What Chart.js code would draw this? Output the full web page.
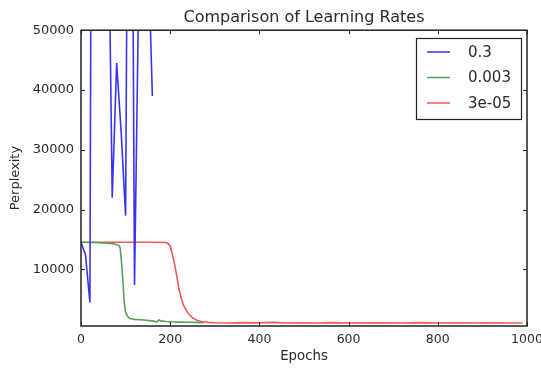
<!DOCTYPE html>
<html>
<head>
<meta charset="utf-8">
<script src="https://cdn.jsdelivr.net/npm/chart.js@4/dist/chart.umd.min.js"></script>
<style>
  html, body { margin: 0; padding: 0; background: #fff; }
  #wrap { width: 541px; height: 368px; }
</style>
</head>
<body>
<div id="wrap"><canvas id="lrChart"></canvas></div>
<script>
// legend labels = learning rates
const rateLabels = ['0.3', '0.003', '3e-05'];

// lr 0.3 diverges, no data after epoch 160
const blueEpochs = [0, 10, 20, 30, 40, 50, 60, 70, 80, 90, 100, 110, 120, 130, 140, 150, 160];
const bluePerplexity = [14500, 12500, 4500, 250000, 300000, 200000, 80000, 22000, 44500, 33000, 19000, 150000, 7400, 60000, 150000, 65000, 39000];

// lr 0.003 - drops around epoch 90, stops at ~275
const greenEpochs = [0, 30, 60, 75, 85, 88, 91, 94, 97, 100, 105, 110, 120, 140, 160, 170, 175, 180, 190, 200, 220, 240, 260, 275];
const greenPerplexity = [14550, 14500, 14400, 14250, 14000, 13500, 11000, 8000, 4500, 2800, 2100, 1800, 1650, 1550, 1400, 1250, 1550, 1400, 1300, 1250, 1200, 1180, 1150, 1120];

// lr 3e-05 - drops around epoch 200
const redEpochs = [0, 50, 100, 150, 190, 196, 200, 205, 210, 215, 220, 225, 230, 240, 250, 260, 270, 285, 300, 330, 360, 400, 430, 460, 500, 530, 560, 600, 640, 680, 720, 760, 800, 840, 880, 920, 960, 990];
const redPerplexity = [14550, 14550, 14540, 14550, 14500, 14300, 13900, 12500, 10800, 8800, 6600, 5200, 4000, 2700, 1900, 1500, 1300, 1150, 1100, 1050, 1120, 1080, 1150, 1050, 1100, 1060, 1120, 1050, 1100, 1080, 1040, 1110, 1060, 1100, 1050, 1090, 1040, 1060];

const xTicks = [0, 200, 400, 600, 800, 1000];
const yTicks = [10000, 20000, 30000, 40000, 50000];

const lineColors = ['#3535f0', '#55a055', '#ee5a55'];
const textColor = '#2a2a2a';
const fontFamily = 'DejaVu Sans';

function toPoints(xs, ys) {
    return xs.map((x, i) => ({ x: x, y: ys[i] }));
}

// matplotlib-ish frame: full box + inward ticks on every side, plus the legend box
const framePlugin = {
    id: 'frame',
    afterDatasetsDraw(chart) {
        const { ctx, chartArea: a, scales } = chart;
        const len = 4;
        ctx.save();
        ctx.strokeStyle = '#222';
        ctx.lineWidth = 1;
        ctx.beginPath();
        xTicks.forEach(v => {
            const px = Math.round(scales.x.getPixelForValue(v)) + 0.5;
            ctx.moveTo(px, a.bottom); ctx.lineTo(px, a.bottom - len);
            ctx.moveTo(px, a.top); ctx.lineTo(px, a.top + len);
        });
        yTicks.forEach(v => {
            const py = Math.round(scales.y.getPixelForValue(v)) + 0.5;
            ctx.moveTo(a.left, py); ctx.lineTo(a.left + len, py);
            ctx.moveTo(a.right, py); ctx.lineTo(a.right - len, py);
        });
        ctx.stroke();
        ctx.lineWidth = 1.5;
        ctx.strokeRect(a.left, a.top, a.right - a.left, a.bottom - a.top);

        // legend
        const bx = 416, by = 38, bw = 105, bh = 81;
        ctx.fillStyle = '#fff';
        ctx.fillRect(bx, by, bw, bh);
        ctx.lineWidth = 1.2;
        ctx.strokeStyle = '#222';
        ctx.strokeRect(bx + 0.5, by + 0.5, bw, bh);
        ctx.font = '15px "' + fontFamily + '"';
        ctx.textBaseline = 'middle';
        ctx.textAlign = 'left';
        chart.data.datasets.forEach((ds, i) => {
            const y = by + 14 + i * 25.5;
            ctx.strokeStyle = ds.borderColor;
            ctx.lineWidth = 1.5;
            ctx.beginPath();
            ctx.moveTo(427, y); ctx.lineTo(450, y);
            ctx.stroke();
            ctx.fillStyle = textColor;
            ctx.fillText(ds.label, 468, y + 1);
        });
        ctx.restore();
    }
};

const ctx = document.getElementById('lrChart').getContext('2d');

const lrChart = new Chart(ctx, {
    type: 'line',
    data: {
        datasets: [
            { label: rateLabels[0], data: toPoints(blueEpochs, bluePerplexity), borderColor: lineColors[0] },
            { label: rateLabels[1], data: toPoints(greenEpochs, greenPerplexity), borderColor: lineColors[1] },
            { label: rateLabels[2], data: toPoints(redEpochs, redPerplexity), borderColor: lineColors[2] }
        ]
    },
    options: {
        responsive: true,
        maintainAspectRatio: false,
        animation: false,
        datasets: {
            line: { borderWidth: 1.6, pointRadius: 0, tension: 0, fill: false }
        },
        layout: { padding: { left: 0, right: 14, top: 0, bottom: 0 } },
        plugins: {
            legend: { display: false },
            tooltip: { enabled: false },
            title: {
                display: true,
                fullSize: false,
                text: 'Comparison of Learning Rates',
                color: textColor,
                font: { family: fontFamily, size: 16, weight: 'normal' },
                padding: { top: 8, bottom: 3 }
            }
        },
        scales: {
            x: {
                type: 'linear',
                min: 0,
                max: 1000,
                afterBuildTicks: s => { s.ticks = xTicks.map(v => ({ value: v })); },
                // let the "1000" label run off the edge like the original
                afterFit: s => { s.height = 42; s.paddingRight = 0; s.paddingLeft = 0; },
                grid: { display: false, drawTicks: false },
                border: { display: false },
                ticks: { padding: 6, maxRotation: 0, color: textColor, font: { family: fontFamily, size: 12.5 }, callback: v => String(v) },
                title: { display: true, text: 'Epochs', color: textColor, font: { family: fontFamily, size: 13.3 }, padding: { top: 0, bottom: 3 } }
            },
            y: {
                type: 'linear',
                min: 550,
                max: 50000,
                afterBuildTicks: s => { s.ticks = yTicks.map(v => ({ value: v })); },
                afterFit: s => { s.width = 81; },
                grid: { display: false, drawTicks: false },
                border: { display: false },
                ticks: { padding: 7, color: textColor, font: { family: fontFamily, size: 13 }, callback: v => String(v) },
                title: { display: true, text: 'Perplexity', color: textColor, font: { family: fontFamily, size: 13 }, padding: { top: 8, bottom: 0 } }
            }
        }
    },
    plugins: [framePlugin]
});
</script>
</body>
</html>
